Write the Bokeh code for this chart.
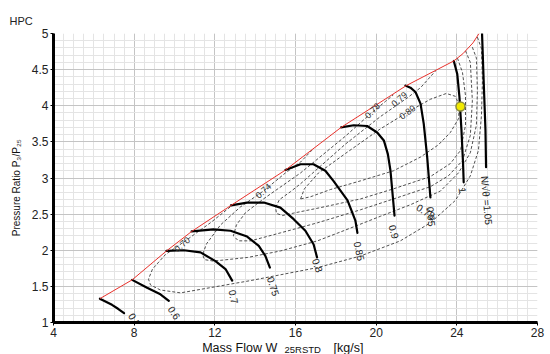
import math
from bokeh.plotting import figure
from bokeh.layouts import column
from bokeh.models import Range1d, SingleIntervalTicker, CustomJSTickFormatter
from bokeh.core.properties import value
from bokeh.embed import file_html
from bokeh.resources import INLINE

FONT = "Liberation Sans"

# ---------------- data ----------------
x_tick_labels = [4, 8, 12, 16, 20, 24, 28]
y_tick_labels = [1, 1.5, 2, 2.5, 3, 3.5, 4, 4.5, 5]

surge_x = [6.3, 7.9, 9.6, 10.85, 12.8, 15.5, 18.26, 21.5, 23.85, 24.3, 24.8, 25.1]
surge_y = [1.33, 1.59, 1.99, 2.26, 2.62, 3.11, 3.70, 4.28, 4.62, 4.72, 4.87, 5.0]

spd_050_x = [6.3, 6.9, 7.2, 7.5]
spd_050_y = [1.33, 1.245, 1.19, 1.13]
spd_060_x = [7.9, 8.64, 9.3, 9.72]
spd_060_y = [1.59, 1.48, 1.39, 1.30]
spd_070_x = [9.6, 10.46, 11.29, 12.03, 12.53, 12.86]
spd_070_y = [1.99, 2.00, 1.97, 1.85, 1.74, 1.58]
spd_075_x = [10.85, 11.93, 12.78, 13.60, 14.18, 14.51, 14.73]
spd_075_y = [2.26, 2.29, 2.27, 2.19, 2.06, 1.92, 1.76]
spd_080_x = [12.8, 13.6, 14.43, 15.25, 15.91, 16.49, 16.9, 17.07]
spd_080_y = [2.62, 2.66, 2.66, 2.59, 2.43, 2.27, 2.08, 1.90]
spd_085_x = [15.5, 16.25, 16.89, 17.48, 17.88, 18.58, 18.97, 19.07]
spd_085_y = [3.11, 3.19, 3.19, 3.10, 2.96, 2.69, 2.41, 2.24]
spd_090_x = [18.26, 18.89, 19.55, 20.05, 20.38, 20.58, 20.71, 20.91]
spd_090_y = [3.70, 3.73, 3.72, 3.63, 3.52, 3.33, 3.10, 2.48]
spd_095_x = [21.45, 21.70, 21.95, 22.20, 22.36, 22.53, 22.69]
spd_095_y = [4.28, 4.25, 4.19, 4.03, 3.75, 3.29, 2.73]
spd_100_x = [23.85, 24.02, 24.13, 24.23, 24.31, 24.34]
spd_100_y = [4.62, 4.44, 4.12, 3.66, 3.19, 2.94]
spd_105_x = [25.25, 25.33, 25.42, 25.45]
spd_105_y = [5.0, 4.35, 3.66, 3.15]

speed_label_text = ["0.5", "0.6", "0.7", "0.75", "0.8", "0.85", "0.9", "0.95", "1",
                    "N/\u221a\u03b8 =1.05", "0.78"]
speed_label_x = [7.85, 9.80, 12.87, 14.76, 16.99, 19.07, 20.81, 22.69, 24.28, 25.37, 22.05]
speed_label_y = [1.12, 1.215, 1.45, 1.63, 1.88, 2.12, 2.35, 2.60, 2.87, 3.03, 2.61]
speed_label_deg = [-58, -56, -78, -72, -70, -78, -76, -84, -82, -85, -32]

eff_070_x = [25.02, 25.22, 25.27, 25.22, 25.07, 24.67, 23.93, 22.69, 21.20, 19.22, 17.09, 13.77, 10.30,
             9.30, 8.81, 8.71, 8.91, 9.55, 10.54, 11.78, 12.9]
eff_070_y = [4.95, 4.79, 4.35, 3.86, 3.38, 3.03, 2.69, 2.38, 2.13, 1.92, 1.76, 1.58, 1.41,
             1.45, 1.52, 1.60, 1.74, 1.94, 2.13, 2.38, 2.63]
eff_074_x = [24.77, 24.97, 25.02, 24.97, 24.67, 24.08, 23.19, 21.70, 20.21, 18.48, 17.09, 15.25, 13.62,
             11.93, 11.49, 11.39, 11.59, 12.28, 13.27, 14.41, 15.50, 16.25, 16.9]
eff_074_y = [4.81, 4.66, 4.21, 3.73, 3.35, 3.07, 2.82, 2.63, 2.47, 2.28, 2.13, 1.99, 1.90,
             1.85, 1.87, 1.94, 2.09, 2.35, 2.60, 2.82, 3.07, 3.22, 3.41]
eff_078_x = [24.43, 24.67, 24.77, 24.67, 24.28, 23.58, 22.69, 20.86, 19.22, 17.09, 15.25, 13.77, 13.17,
             12.92, 13.07, 13.52, 14.41, 16.25, 18.48, 19.72, 20.46, 20.85]
eff_078_y = [4.76, 4.60, 4.07, 3.59, 3.24, 3.03, 2.88, 2.71, 2.56, 2.38, 2.24, 2.13, 2.13,
             2.20, 2.35, 2.52, 2.71, 3.07, 3.58, 3.89, 4.06, 4.15]
eff_079_x = [24.03, 24.28, 24.43, 24.43, 24.18, 23.68, 22.69, 20.86, 19.22, 17.24, 16.00, 15.35, 15.06,
             15.01, 15.20, 15.75, 16.25, 18.48, 20.21, 21.55, 22.20, 22.94]
eff_079_y = [4.66, 4.46, 4.14, 3.73, 3.38, 3.20, 3.02, 2.85, 2.71, 2.59, 2.52, 2.48, 2.51,
             2.59, 2.70, 2.81, 2.92, 3.47, 3.85, 4.11, 4.25, 4.48]
eff_080_x = [16.25, 16.44, 17.14, 18.48, 20.21, 21.55, 22.69, 23.48, 23.93, 24.13, 24.08, 23.68, 23.09,
             22.20, 20.86, 19.22, 17.73, 16.74, 16.25]
eff_080_y = [2.71, 2.85, 3.07, 3.34, 3.68, 3.91, 4.09, 4.17, 4.13, 4.00, 3.82, 3.63, 3.46,
             3.29, 3.10, 2.96, 2.84, 2.74, 2.71]

eff_label_text = ["0.70", "0.74", "0.78", "0.79", "0.80"]
eff_label_x = [10.38, 14.41, 19.82, 21.15, 21.55]
eff_label_y = [2.08, 2.82, 3.93, 4.09, 3.91]
eff_label_deg = [40, 42, 45, 42, 37]

op_x = [24.18]
op_y = [3.99]

title_text = "HPC"
y_title = "Pressure Ratio P\u2083/P\u2082\u2085"
xlab_parts = ["Mass Flow W", "25RSTD", "[kg/s]"]

# ---------------- main chart ----------------
p = figure(width=548, height=340, x_range=Range1d(4, 28), y_range=Range1d(1, 5),
           output_backend="svg", toolbar_location=None,
           min_border_left=53, min_border_right=11, min_border_top=33, min_border_bottom=18)
p.outline_line_color = None
p.background_fill_color = "white"
p.border_fill_color = "white"

p.title.text = title_text
p.title.align = "left"
p.title.offset = -44
p.title.standoff = 13
p.title.text_font = FONT
p.title.text_font_size = "11px"
p.title.text_font_style = "normal"
p.title.text_color = "#222222"

xt = SingleIntervalTicker(interval=4, num_minor_ticks=8)
yt = SingleIntervalTicker(interval=0.5, num_minor_ticks=5)
p.xaxis.ticker = xt
p.yaxis.ticker = yt
p.xgrid.ticker = xt
p.ygrid.ticker = yt
fmt = CustomJSTickFormatter(code="return String(Math.round(tick*10)/10);")
for ax in (p.xaxis, p.yaxis):
    ax.formatter = fmt
    ax.axis_line_width = 3
    ax.axis_line_color = "black"
    ax.major_tick_line_color = "black"
    ax.major_tick_in = 0
    ax.major_tick_out = 3
    ax.minor_tick_line_color = None
    ax.major_label_text_font = FONT
    ax.major_label_text_font_size = "12px"
    ax.major_label_text_color = "#222222"
p.xaxis.major_label_standoff = 1
p.yaxis.major_label_standoff = 1
# trailing no-break spaces move the centred title down to where the reference has it
p.yaxis.axis_label = y_title + "\u00a0" * 7
p.yaxis.axis_label_text_font = FONT
p.yaxis.axis_label_text_font_size = "10px"
p.yaxis.axis_label_text_font_style = "normal"
p.yaxis.axis_label_text_color = "#111111"
p.yaxis.axis_label_standoff = 7
for g in (p.xgrid, p.ygrid):
    g.grid_line_color = "#c4c4c4"
    g.grid_line_width = 1
    g.minor_grid_line_color = "#e4e4e4"
    g.minor_grid_line_width = 1

# efficiency contours
for cx, cy in [(eff_070_x, eff_070_y), (eff_074_x, eff_074_y), (eff_078_x, eff_078_y),
               (eff_079_x, eff_079_y), (eff_080_x, eff_080_y)]:
    p.line(cx, cy, line_color="#3c3c3c", line_width=0.9, line_dash="3 2")

# speed lines
for sx, sy in [(spd_050_x, spd_050_y), (spd_060_x, spd_060_y), (spd_070_x, spd_070_y),
               (spd_075_x, spd_075_y), (spd_080_x, spd_080_y), (spd_085_x, spd_085_y),
               (spd_090_x, spd_090_y), (spd_095_x, spd_095_y), (spd_100_x, spd_100_y),
               (spd_105_x, spd_105_y)]:
    p.line(sx, sy, line_color="black", line_width=2.2, line_join="round", line_cap="round")

# surge line
p.line(surge_x, surge_y, line_color="#e8322c", line_width=1)

p.text(x=speed_label_x, y=speed_label_y, text=speed_label_text,
       angle=[math.radians(a) for a in speed_label_deg],
       text_font=value(FONT), text_font_size="10px", text_color="#222222",
       text_align="left", text_baseline="middle")
p.text(x=eff_label_x, y=eff_label_y, text=eff_label_text,
       angle=[math.radians(a) for a in eff_label_deg],
       text_font=value(FONT), text_font_size="9px", text_color="#333333",
       text_align="center", text_baseline="middle")

p.scatter(op_x, op_y, size=9, marker="circle", fill_color="#f2ea00",
          line_color="#8c8c3c", line_width=1.5)

# ---------------- x title strip (its frame lines up with the chart frame) ----------------
xl = figure(width=548, height=14, x_range=Range1d(53, 537), y_range=Range1d(14, 0),
            title=None, output_backend="svg", toolbar_location=None,
            x_axis_location=None, y_axis_location=None,
            min_border_left=53, min_border_right=11, min_border_top=0, min_border_bottom=0)
xl.grid.visible = False
xl.outline_line_color = None
xl.background_fill_color = "white"
xl.border_fill_color = "white"
xl.text(x=[201.7, 333], y=[7.6, 7.6], text=[xlab_parts[0], xlab_parts[2]],
        text_font=value(FONT), text_font_size="12.5px", text_color="#111111",
        text_align="left", text_baseline="alphabetic")
xl.text(x=[284], y=[9.4], text=[xlab_parts[1]],
        text_font=value(FONT), text_font_size="9.5px", text_color="#111111",
        text_align="left", text_baseline="alphabetic")

layout = column(p, xl, spacing=0)
open("out.html", "w").write(file_html(layout, INLINE))
